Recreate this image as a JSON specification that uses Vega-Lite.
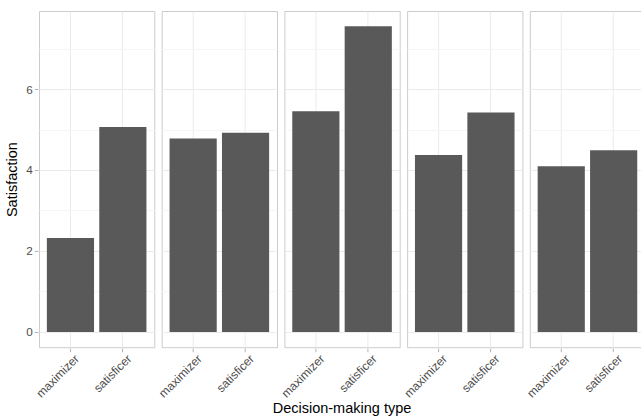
{
  "$schema": "https://vega.github.io/schema/vega-lite/v6.json",
  "padding": {"left": 4, "top": 10, "right": 0, "bottom": 0},
  "background": "white",
  "data": {"values": [
    {"panel": "1", "type": "maximizer", "satisfaction": 2.32},
    {"panel": "1", "type": "satisficer", "satisfaction": 5.06},
    {"panel": "2", "type": "maximizer", "satisfaction": 4.78},
    {"panel": "2", "type": "satisficer", "satisfaction": 4.92},
    {"panel": "3", "type": "maximizer", "satisfaction": 5.45},
    {"panel": "3", "type": "satisficer", "satisfaction": 7.55},
    {"panel": "4", "type": "maximizer", "satisfaction": 4.37},
    {"panel": "4", "type": "satisficer", "satisfaction": 5.42},
    {"panel": "5", "type": "maximizer", "satisfaction": 4.09},
    {"panel": "5", "type": "satisficer", "satisfaction": 4.49}
  ]},
  "facet": {
    "column": {
      "field": "panel", "type": "nominal",
      "header": {"labels": false, "title": "Decision-making type", "titleOrient": "bottom",
                 "titleFont": "Liberation Sans", "titleFontSize": 14.5, "titleFontWeight": "normal",
                 "titleColor": "black", "titlePadding": -8}
    }
  },
  "spacing": 5.7,
  "spec": {
    "width": 115.3,
    "height": 336.2,
    "mark": {"type": "bar", "color": "#595959"},
    "encoding": {
      "x": {
        "field": "type", "type": "nominal",
        "scale": {"paddingInner": 0.1, "paddingOuter": 0.15},
        "axis": {"title": null, "labelAngle": -45, "labelAlign": "right", "labelBaseline": "top",
                 "labelPadding": 1, "labelOffset": 3, "grid": true, "domain": false, "labelFontSize": 12}
      },
      "y": {
        "field": "satisfaction", "type": "quantitative",
        "scale": {"domain": [-0.3775, 7.9275], "nice": false, "zero": false},
        "axis": {
          "title": "Satisfaction",
          "values": [0, 1, 2, 3, 4, 5, 6, 7],
          "labelExpr": "datum.value % 2 === 0 ? datum.label : ''",
          "tickOpacity": {"condition": {"test": "datum.value % 2 === 0", "value": 1}, "value": 0},
          "gridColor": {"condition": {"test": "datum.value % 2 === 0", "value": "#ebebeb"}, "value": "#f5f5f5"},
          "domain": false
        }
      }
    }
  },
  "config": {
    "view": {"stroke": "#cccccc", "strokeWidth": 1},
    "axis": {
      "labelFont": "Liberation Sans", "labelFontSize": 11.7, "labelColor": "#4d4d4d",
      "titleFont": "Liberation Sans", "titleFontSize": 14.5, "titleFontWeight": "normal", "titleColor": "black",
      "tickColor": "#b3b3b3", "tickSize": 3.7, "tickWidth": 1,
      "gridColor": "#ebebeb", "gridWidth": 1,
      "labelPadding": 2, "titlePadding": 6
    }
  }
}
